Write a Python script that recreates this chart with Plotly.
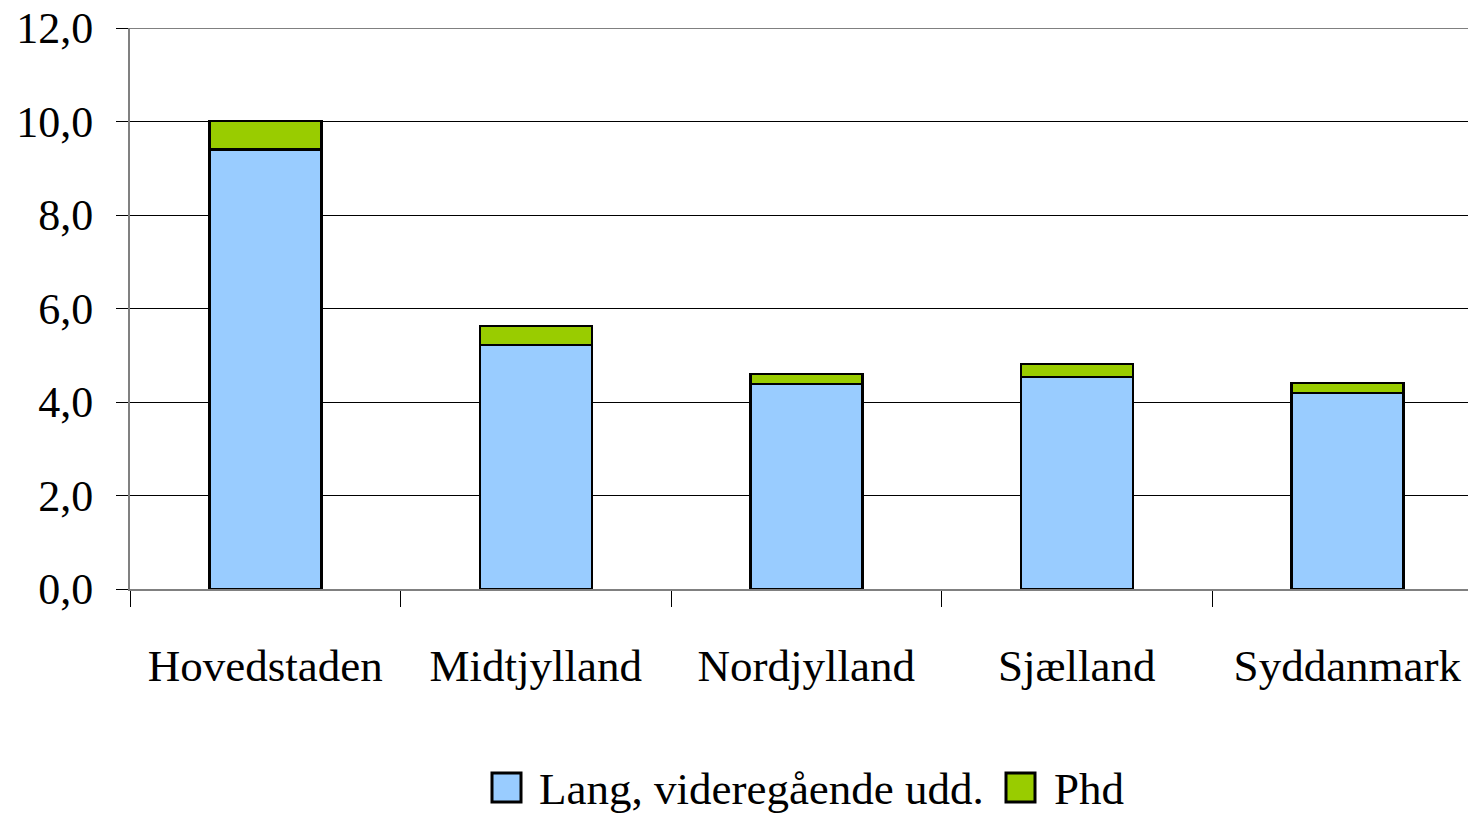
import plotly.graph_objects as go

regioner = ["Hovedstaden", "Midtjylland", "Nordjylland", "Sjælland", "Syddanmark"]
lang_vid = [9.4, 5.22, 4.39, 4.53, 4.19]
phd = [0.61, 0.41, 0.21, 0.28, 0.22]

serier = ["Lang, videregående udd.", "Phd"]
farver = ["#99CCFF", "#99CC00"]

FONT = "Liberation Serif"

W, H = 1468, 815
ML, MT, MB = 130, 28, 226

fig = go.Figure()
for navn, vals, farve in zip(serier, [lang_vid, phd], farver):
    fig.add_trace(go.Bar(
        x=regioner, y=vals, name=navn, showlegend=False,
        marker=dict(color=farve, line=dict(color="black", width=2.5)),
    ))

fig.update_layout(
    barmode="stack",
    bargap=0.586,
    width=W, height=H,
    margin=dict(l=ML, r=0, t=MT, b=MB),
    paper_bgcolor="white", plot_bgcolor="white",
    separators=",.",
    font=dict(family=FONT, size=44, color="black"),
    xaxis=dict(
        automargin=False,
        range=[-0.5, 4.446],  # plotområdet fortsætter ud over billedkanten
        showline=True, linecolor="#808080", linewidth=2,
        ticks="outside", tickson="boundaries", ticklen=16, tickcolor="black", tickwidth=1,
        ticklabelstandoff=36, tickfont=dict(size=45), showgrid=False,
        ticklabeloverflow="allow",
    ),
    yaxis=dict(
        automargin=False,
        range=[0, 12], dtick=2, tickformat=".1f",
        showline=True, linecolor="#808080", linewidth=2,
        ticks="outside", ticklen=12, tickcolor="black", tickwidth=1,
        ticklabelstandoff=14, ticklabeloverflow="allow",
        showgrid=True, gridcolor="black", gridwidth=1, zeroline=False,
        tickfont=dict(size=44),
    ),
)
fig.add_shape(type="line", xref="paper", yref="y", x0=0, x1=1, y0=12, y1=12,
              line=dict(color="#808080", width=2))

# manuel forklaring (store firkanter som i originalen), i pixel-koordinater
pw, ph = W - ML, H - MT - MB
def px(xs):
    return (xs - ML) / pw
def py(ys):
    return (H - MB - ys) / ph

legend_pos = [(492, 537), (1006, 1052)]
for (bx, tx), navn, farve in zip(legend_pos, serier, farver):
    fig.add_shape(type="rect", xref="paper", yref="paper",
                  x0=px(bx), x1=px(bx + 29), y0=py(773), y1=py(802),
                  fillcolor=farve, line=dict(color="black", width=3))
    fig.add_annotation(xref="paper", yref="paper", x=px(tx), y=py(789),
                       xanchor="left", yanchor="middle", text=navn, showarrow=False,
                       font=dict(size=45))

fig.write_html("out.html", config={"displayModeBar": False},
               post_script="document.body.style.margin='0';document.body.style.overflow='hidden';")
